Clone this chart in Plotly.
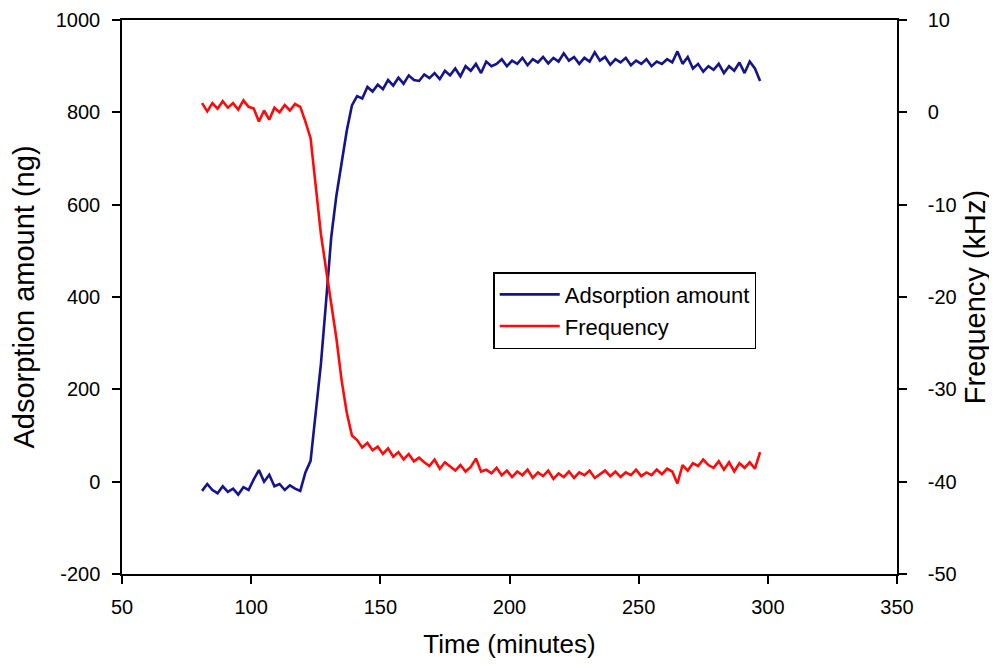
import plotly.graph_objects as go

time_min = [81, 83, 85, 87, 89, 91, 93, 95, 97, 99,
            101, 103, 105, 107, 109, 111, 113, 115, 117, 119,
            121, 123, 125, 127, 129, 131, 133, 135, 137, 139,
            141, 143, 145, 147, 149, 151, 153, 155, 157, 159,
            161, 163, 165, 167, 169, 171, 173, 175, 177, 179,
            181, 183, 185, 187, 189, 191, 193, 195, 197, 199,
            201, 203, 205, 207, 209, 211, 213, 215, 217, 219,
            221, 223, 225, 227, 229, 231, 233, 235, 237, 239,
            241, 243, 245, 247, 249, 251, 253, 255, 257, 259,
            261, 263, 265, 267, 269, 271, 273, 275, 277, 279,
            281, 283, 285, 287, 289, 291, 293, 295, 297]

adsorption_ng = [-20, -5, -18, -25, -10, -22, -15, -28, -12, -18,
                 5, 25, 0, 15, -10, -5, -18, -8, -15, -20,
                 20, 45, 150, 255, 390, 530, 620, 690, 760, 815,
                 835, 830, 855, 845, 860, 850, 870, 858, 875, 862,
                 880, 870, 868, 882, 874, 885, 872, 890, 880, 895,
                 878, 900, 890, 905, 885, 910, 900, 905, 915, 900,
                 912, 905, 918, 902, 915, 908, 920, 906, 918, 910,
                 928, 912, 920, 905, 918, 910, 930, 912, 920, 903,
                 915, 908, 918, 902, 912, 905, 915, 900, 910, 905,
                 915, 908, 932, 905, 920, 895, 905, 888, 900, 892,
                 905, 885, 900, 890, 908, 885, 910, 895, 868]

frequency_khz = [1.0, 0.1, 1.0, 0.4, 1.2, 0.5, 1.0, 0.3, 1.3, 0.6,
                 0.4, -1.0, 0.2, -0.8, 0.5, 0.0, 0.8, 0.2, 0.9, 0.6,
                 -1.0, -2.8, -8.0, -13.2, -17.0, -20.5, -24.5, -29.0, -32.5, -35.0,
                 -35.5, -36.3, -35.8, -36.6, -36.2, -37.0, -36.4, -37.3, -36.8, -37.6,
                 -37.0, -37.8, -37.4, -37.9, -38.3, -37.6, -38.6, -37.9, -38.4, -38.8,
                 -38.2, -38.9, -38.4, -37.5, -38.9, -38.7, -39.1, -38.5, -39.3, -38.8,
                 -39.5, -38.9, -39.3, -38.7, -39.6, -39.0, -39.4, -38.8, -39.7, -39.1,
                 -39.5, -38.9, -39.6, -39.0, -39.3, -38.8, -39.6, -39.2, -38.8, -39.4,
                 -38.9, -39.5, -39.0, -39.3, -38.7, -39.4, -39.0, -39.3, -38.7, -39.2,
                 -38.6, -38.9, -40.2, -38.2, -38.8, -38.0, -38.3, -37.6, -38.2, -38.5,
                 -37.8, -38.7, -37.9, -38.9, -38.0, -38.5, -37.9, -38.6, -36.8]

x_ticks = [50, 100, 150, 200, 250, 300, 350]
y_ticks = [-200, 0, 200, 400, 600, 800, 1000]
y_tick_labels = ["-200", "0", "200", "400", "600", "800", "1000"]
y2_ticks = [-50, -40, -30, -20, -10, 0, 10]
y2_tick_labels = ["-50", "-40", "-30", "-20", "-10", "0", "10"]

FONT = "Liberation Sans, Arial, sans-serif"

fig = go.Figure()
fig.add_trace(go.Scatter(x=time_min, y=adsorption_ng, mode="lines",
                         name="Adsorption amount",
                         line=dict(color="#14148c", width=2.6)))
fig.add_trace(go.Scatter(x=time_min, y=frequency_khz, mode="lines",
                         name="Frequency", yaxis="y2",
                         line=dict(color="#ff0a0a", width=2.6)))

axis_common = dict(showline=True, linecolor="black", linewidth=1.5,
                   ticks="outside", ticklen=8, tickcolor="black", tickwidth=1.5,
                   showgrid=False, zeroline=False, automargin=False,
                   tickfont=dict(family=FONT, size=20, color="black"))

# the page body adds an 8px offset, so margins compensate for it
fig.update_layout(
    width=997, height=668,
    margin=dict(l=114, r=108, t=12, b=102),
    paper_bgcolor="white", plot_bgcolor="white",
    font=dict(family=FONT, color="black"),
    xaxis=dict(range=[50, 350], tickvals=x_ticks, mirror=True,
               ticklabelstandoff=6,
               title=dict(text="Time (minutes)", font=dict(family=FONT, size=26), standoff=18),
               **axis_common),
    yaxis=dict(range=[-200, 1000], tickvals=y_ticks, ticktext=y_tick_labels,
               ticklabelstandoff=8,
               title=dict(text="Adsorption amount (ng)", font=dict(family=FONT, size=29), standoff=17),
               **axis_common),
    yaxis2=dict(range=[-50, 10], tickvals=y2_ticks, ticktext=y2_tick_labels,
                overlaying="y", side="right", ticklabelstandoff=17,
                title=dict(text="Frequency (kHz)", font=dict(family=FONT, size=29), standoff=9),
                **axis_common),
    legend=dict(x=0.479, y=0.545, xanchor="left", yanchor="top",
                bgcolor="white", bordercolor="black", borderwidth=1.5,
                font=dict(family=FONT, size=22, color="black"),
                itemwidth=60, tracegroupgap=0),
    showlegend=True,
)

fig.write_html("out.html")
